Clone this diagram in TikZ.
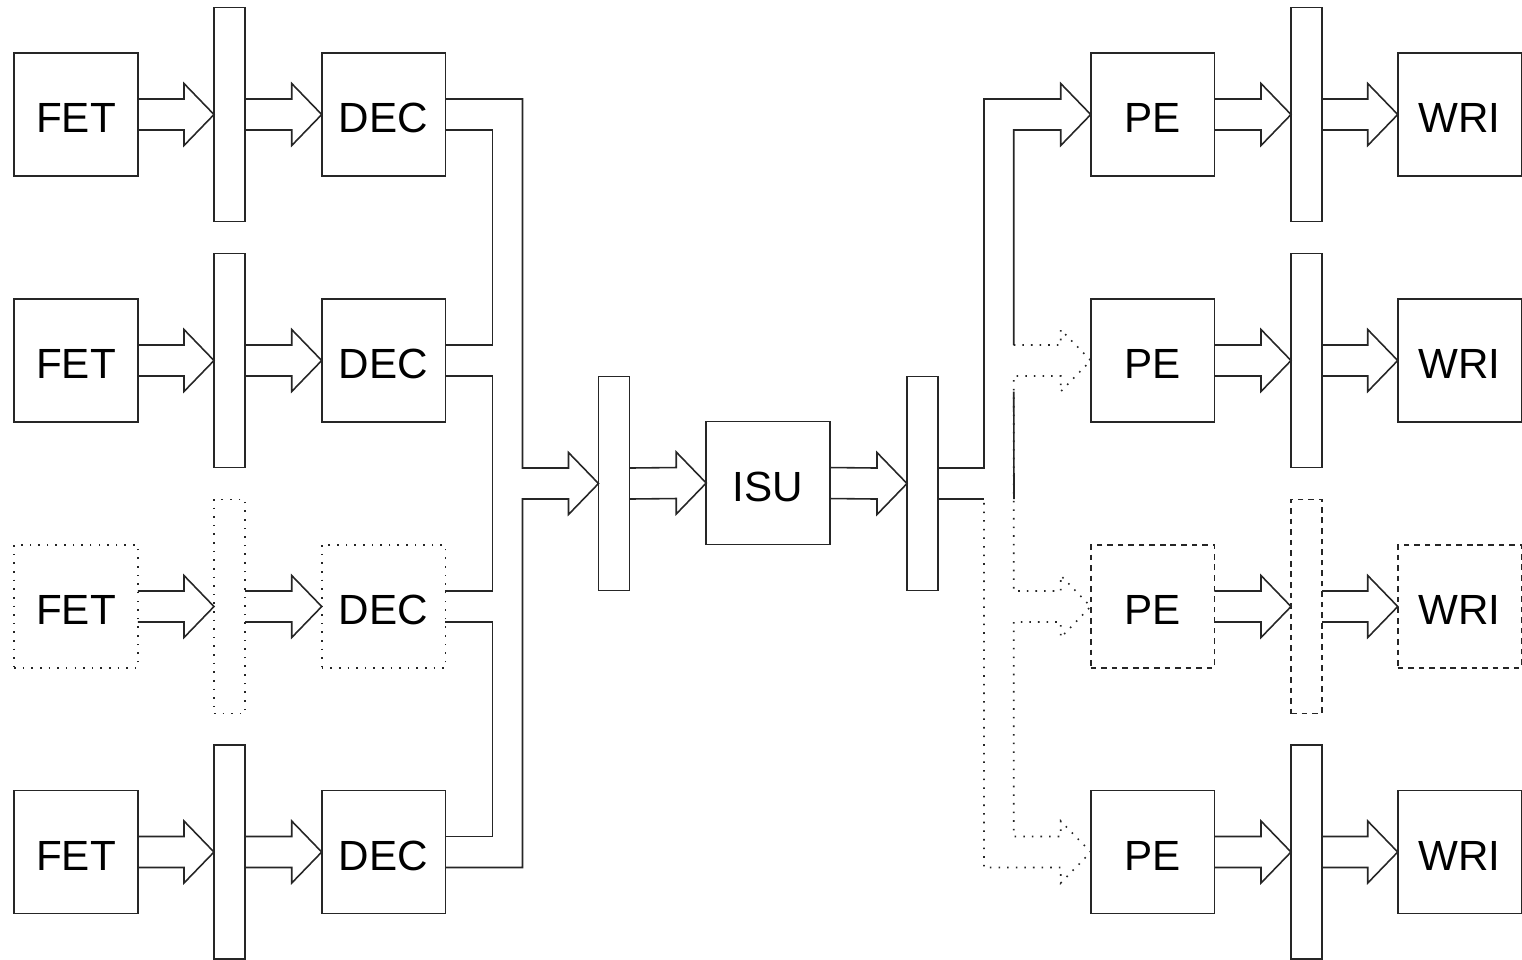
\documentclass[tikz,border=0pt]{standalone}
\usepackage{fontspec}
\setmainfont{Liberation Sans}
\usetikzlibrary{calc}
\tikzset{
unit/.style={draw, minimum width=1.235cm, minimum height=1.23cm, inner sep=0pt, outer sep=0pt, text height=10.3pt, text depth=0pt, font=\fontsize{12}{14}\selectfont},
reg/.style={draw, minimum width=0.31cm, minimum height=2.14cm, inner sep=0pt, outer sep=0pt},
real/.style={},
ghostL/.style={dotted},
ghostR/.style={dash pattern=on 1.6pt off 1.4pt}
}
% fat arrow from the east side of #2 to the west side of #3
\newcommand{\fatarrow}[3][]{%
  \draw[#1] ($(#2.east)+(0,-15.5)$) -- ($(#3.west)+(-30,-15.5)$) -- ++(0,-15.5)
    -- (#3.west) -- ($(#3.west)+(-30,31)$) -- ++(0,-15.5) -- ($(#2.east)+(0,15.5)$);}

\begin{document}
\begin{tikzpicture}[x=0.01cm, y=-0.01cm, line width=0.45pt, draw=black!85]
\useasboundingbox (0,0) rectangle (1522,959);

% front end
\foreach \i/\y/\st in {1/114.5/real, 2/360.5/real, 3/606.5/ghostL, 4/852/real} {
  \node[unit,\st] (fet\i) at (76,\y) {FET};
  \node[reg,\st] (fdreg\i) at (229.5,\y) {};
  \node[unit,\st] (dec\i) at (383.5,\y) {DEC};
  \fatarrow{fet\i}{fdreg\i}
  \fatarrow{fdreg\i}{dec\i}
}

% issue
\node[reg] (isuin) at (614,483.5) {};
\node[unit] (isu) at (768,483) {ISU};
\node[reg] (isuout) at (922.5,483.5) {};
\fatarrow{isuin}{isu}
\fatarrow{isu}{isuout}

% back end
\foreach \i/\y/\st in {1/114.5/real, 2/360.5/real, 3/606.5/ghostR, 4/852/real} {
  \node[unit,\st] (pe\i) at (1152.5,\y) {PE};
  \node[reg,\st] (pwreg\i) at (1306.5,\y) {};
  \node[unit,\st] (wri\i) at (1459.5,\y) {WRI};
  \fatarrow{pe\i}{pwreg\i}
  \fatarrow{pwreg\i}{wri\i}
}

% merge DEC -> ISU
\draw ($(dec1.east)+(0,-15.5)$) -| ($(isuin.west)+(-76,-15.5)$) -- ($(isuin.west)+(-30,-15.5)$)
  -- ++(0,-15.5) -- (isuin.west) -- ($(isuin.west)+(-30,31)$) -- ++(0,-15.5)
  -- ($(isuin.west)+(-76,15.5)$) |- ($(dec4.east)+(0,15.5)$);
\foreach \i/\j in {1/2, 2/3, 3/4}
  \draw ($(dec\i.east)+(0,15.5)$) -- ++(47,0) |- ($(dec\j.east)+(0,-15.5)$);

% split ISU -> PE
\draw ($(isuout.east)+(0,-15.5)$) -- ++(46,0) |- ($(pe1.west)+(-30,-15.5)$) -- ++(0,-15.5)
  -- (pe1.west) -- ($(pe1.west)+(-30,31)$) -- ++(0,-15.5) -| ($(pe2.west)+(-77,-15.5)$);
\draw[ghostL] ($(pe2.west)+(-77,-15.5)$) -- ($(pe2.west)+(-30,-15.5)$) -- ++(0,-15.5)
  -- (pe2.west) -- ($(pe2.west)+(-30,31)$) -- ++(0,-15.5) -- ++(-47,0)
  -- ($(pe3.west)+(-77,-15.5)$) -- ($(pe3.west)+(-30,-15.5)$) -- ++(0,-15.5)
  -- (pe3.west) -- ($(pe3.west)+(-30,31)$) -- ++(0,-15.5) -- ++(-47,0)
  -- ($(pe4.west)+(-77,-15.5)$) -- ($(pe4.west)+(-30,-15.5)$) -- ++(0,-15.5)
  -- (pe4.west) -- ($(pe4.west)+(-30,31)$) -- ++(0,-15.5)
  -| ($(isuout.east)+(46,15.5)$);
\draw ($(isuout.east)+(0,15.5)$) -- ++(46,0);
\draw ($(pe2.west)+(-77,31)$) -- ($(isuout.east)+(76,15.5)$);
\end{tikzpicture}
\end{document}
